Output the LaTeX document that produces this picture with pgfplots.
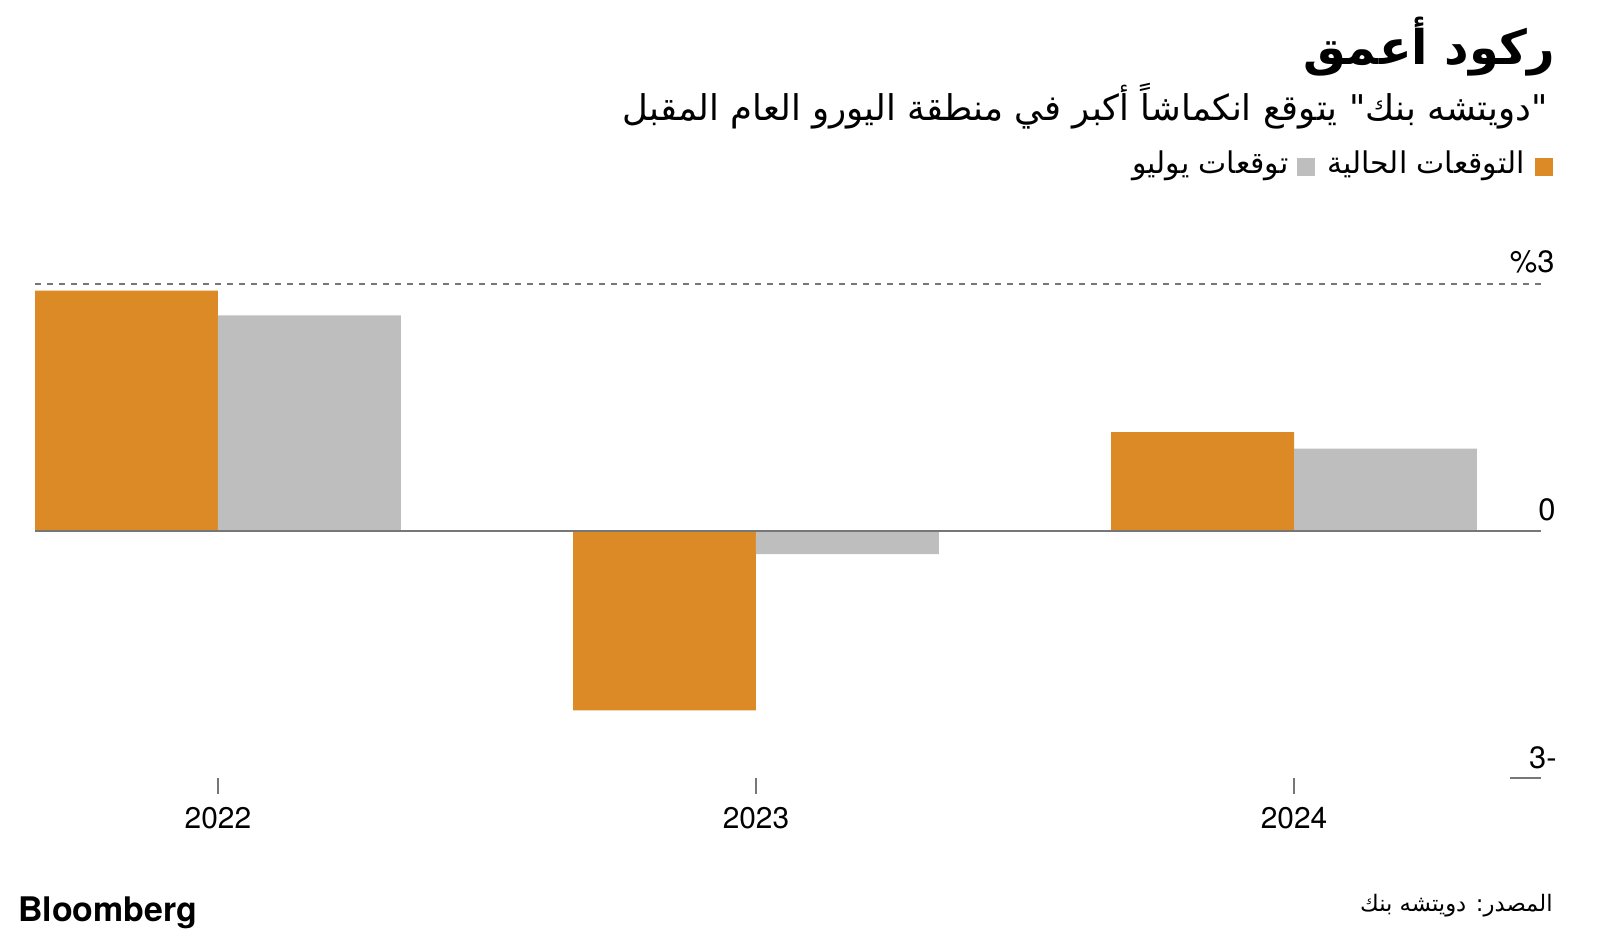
\documentclass[border=0pt]{standalone}
\usepackage{pgfplots}
\pgfplotsset{compat=1.18}
\usepackage{fontspec}
\setmainfont{TeX Gyre Heros}
\newfontfamily\arabicfont[Script=Arabic]{DejaVu Sans}
\TeXXeTstate=1
\definecolor{orangeC}{HTML}{DB8A25}
\definecolor{grayC}{HTML}{BEBEBE}
\definecolor{lineC}{HTML}{777777}
\begin{document}
\begin{tikzpicture}
\path[use as bounding box] (0,0) rectangle (800bp,469bp);
% titles
\node[anchor=east, inner sep=0pt] at (777.5bp,445.5bp) {\arabicfont\bfseries\fontsize{24}{28}\selectfont\beginR ركود أعمق\endR};
\node[anchor=east, inner sep=0pt] at (774bp,416bp) {\arabicfont\fontsize{17.8}{20}\selectfont\beginR "دويتشه بنك" يتوقع انكماشاً أكبر في منطقة اليورو العام المقبل\endR};
% legend
\fill[orangeC] (767.5bp,381bp) rectangle (776.5bp,390bp);
\node[anchor=east, inner sep=0pt] (t1) at (762.5bp,386bp) {\arabicfont\fontsize{15}{17}\selectfont\beginR التوقعات الحالية\endR};
\fill[grayC] ([xshift=-6bp]t1.west |- 0,381bp) rectangle ([xshift=-15bp]t1.west |- 0,390bp);
\node[anchor=east, inner sep=0pt] at ([xshift=-19bp]t1.west) {\arabicfont\fontsize{15}{17}\selectfont\beginR توقعات يوليو\endR};
% chart
\begin{axis}[
    at={(17.5bp,80bp)}, anchor=south west,
    scale only axis,
    width=753bp, height=247bp,
    xmin=-0.34, xmax=2.459,
    ymin=-3, ymax=3,
    axis x line*=bottom,
    axis y line=none,
    x axis line style={draw=none},
    xtick={0,1,2},
    xticklabels={2022,2023,2024},
    tick align=outside,
    major tick length=8bp,
    xtick style={draw=lineC, line width=0.6bp},
    xticklabel style={font=\fontsize{15}{17}\selectfont, yshift=-3bp},
    ytick=\empty,
    clip=false,
]
\draw[lineC, dash pattern=on 3bp off 3bp, line width=0.6bp] (axis cs:-0.34,3) -- (axis cs:2.459,3);
\addplot[ybar, bar width=0.34, bar shift=-0.17, fill=orangeC, draw=none] coordinates {(0,2.92) (1,-2.18) (2,1.2)};
\addplot[ybar, bar width=0.34, bar shift=0.17, fill=grayC, draw=none] coordinates {(0,2.62) (1,-0.28) (2,1.0)};
\draw[lineC, line width=0.7bp] (axis cs:-0.34,0) -- (axis cs:2.459,0);
\draw[lineC, line width=0.6bp] (axis cs:2.401,-3) -- (axis cs:2.459,-3);
\node[anchor=east, inner sep=0pt, font=\fontsize{15.5}{18}\selectfont] at ([xshift=7bp, yshift=11bp]axis cs:2.459,3) {\%3};
\node[anchor=east, inner sep=0pt, font=\fontsize{15.5}{18}\selectfont] at ([xshift=7.5bp, yshift=10.5bp]axis cs:2.459,0) {0};
\node[anchor=east, inner sep=0pt, font=\fontsize{15.5}{18}\selectfont] at ([xshift=8bp, yshift=10bp]axis cs:2.459,-3) {3-};
\end{axis}
% footer
\node[anchor=west, inner sep=0pt, font=\bfseries\fontsize{17}{20}\selectfont] at (9bp,12.5bp) {Bloomberg};
\node[anchor=east, inner sep=0pt] at (776.5bp,16bp) {\arabicfont\fontsize{11.4}{13}\selectfont\beginR المصدر: دويتشه بنك\endR};
\end{tikzpicture}
\end{document}
